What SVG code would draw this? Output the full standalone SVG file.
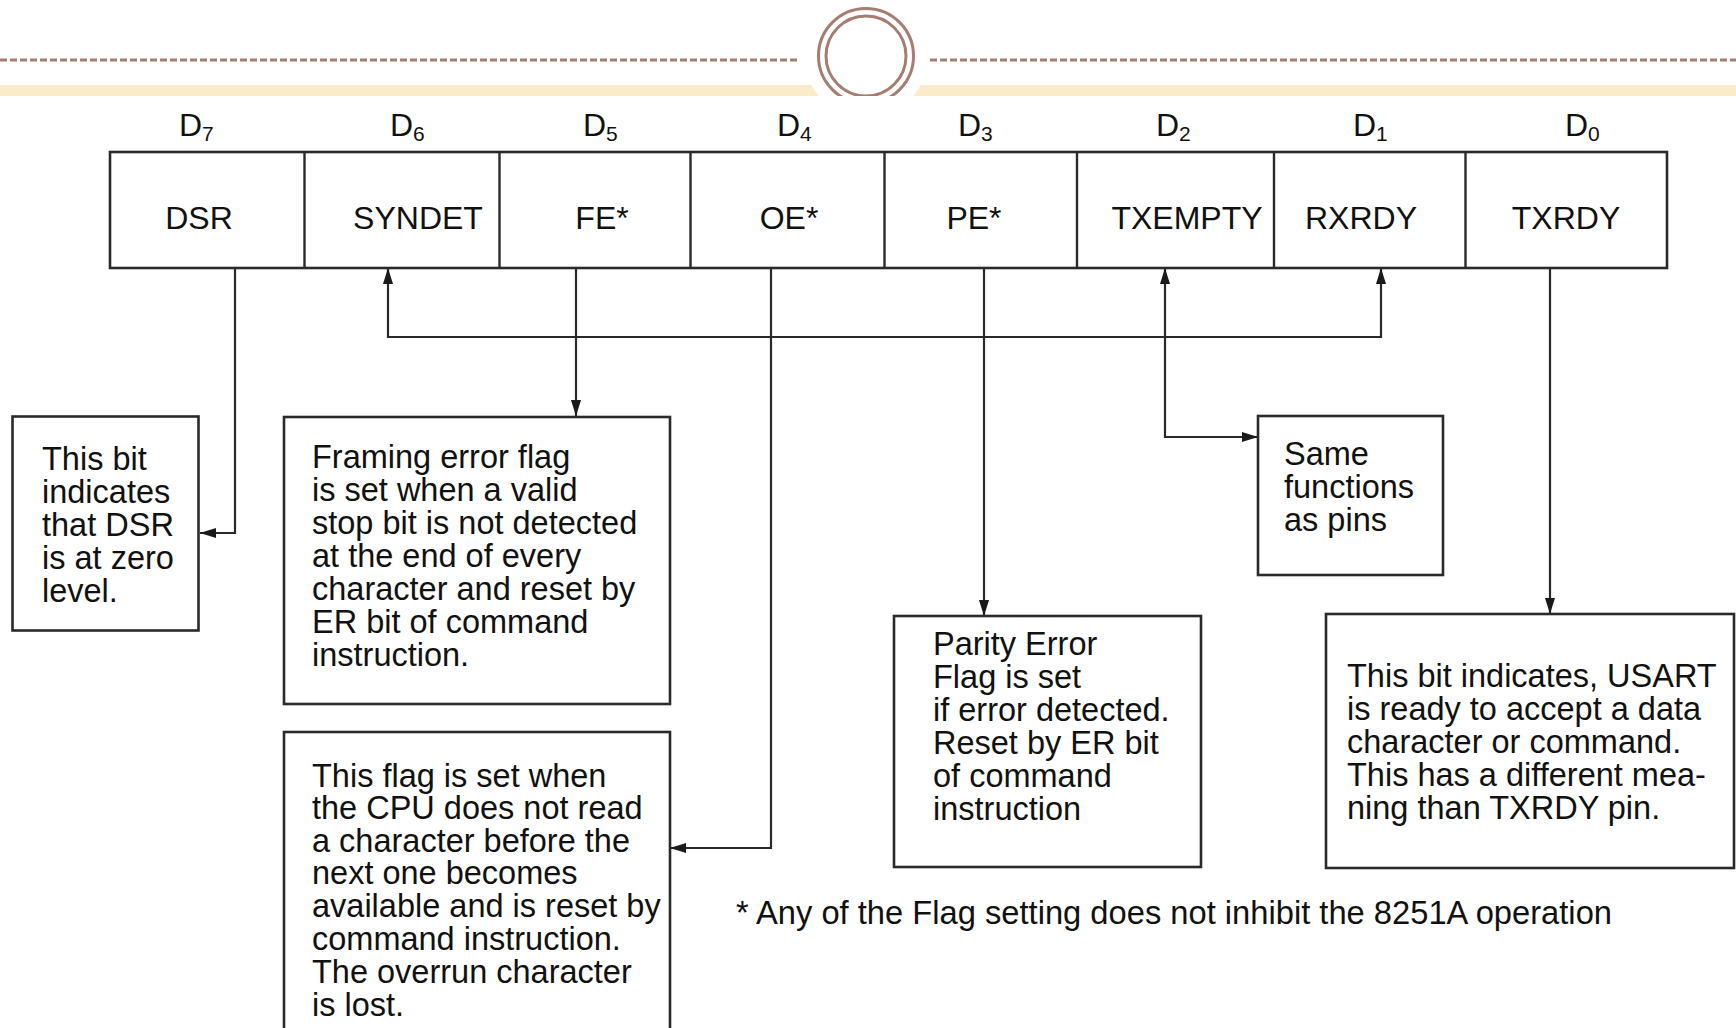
<svg xmlns="http://www.w3.org/2000/svg" width="1736" height="1028" viewBox="0 0 1736 1028">
<style>
.box{fill:#fff;stroke:#2a2a2a;stroke-width:2.6}
.t{font-family:"Liberation Sans",Arial,sans-serif;font-size:32.5px;fill:#111}
.lbl{font-family:"Liberation Sans",Arial,sans-serif;font-size:32px;fill:#111;text-anchor:middle}
.d{font-family:"Liberation Sans",Arial,sans-serif;font-size:32px;fill:#111}
.sub{font-size:21px}
.wire{fill:none;stroke:#2a2a2a;stroke-width:2.2}
.deco{fill:none;stroke:#A57D71;stroke-width:3}
</style>
<defs>
<marker id="ah" markerUnits="userSpaceOnUse" markerWidth="16" markerHeight="10" refX="16" refY="5" orient="auto-start-reverse">
<path d="M0,0 L16,5 L0,10 z" fill="#1a1a1a"/>
</marker>
<clipPath id="topclip"><rect x="0" y="0" width="1736" height="96"/></clipPath>
</defs>
<rect width="1736" height="1028" fill="#fff"/>
<g id="header">
<rect x="0" y="85" width="1736" height="11" fill="#FBECC9"/>
<line x1="0" y1="60" x2="800" y2="60" class="deco" stroke-dasharray="7 3"/>
<line x1="930" y1="60" x2="1736" y2="60" class="deco" stroke-dasharray="7 3"/>
<g clip-path="url(#topclip)">
<circle cx="866" cy="56" r="62" fill="#fff"/>
<circle cx="866" cy="56" r="47.5" class="deco"/>
<circle cx="866" cy="56" r="40" class="deco"/>
</g>
</g>
<g id="bit-labels">
<text class="d" x="179" y="136">D<tspan class="sub" dy="5">7</tspan></text>
<text class="d" x="390" y="136">D<tspan class="sub" dy="5">6</tspan></text>
<text class="d" x="583" y="136">D<tspan class="sub" dy="5">5</tspan></text>
<text class="d" x="777" y="136">D<tspan class="sub" dy="5">4</tspan></text>
<text class="d" x="958" y="136">D<tspan class="sub" dy="5">3</tspan></text>
<text class="d" x="1156" y="136">D<tspan class="sub" dy="5">2</tspan></text>
<text class="d" x="1353" y="136">D<tspan class="sub" dy="5">1</tspan></text>
<text class="d" x="1565" y="136">D<tspan class="sub" dy="5">0</tspan></text>
</g>
<g id="register">
<rect class="box" x="110" y="152" width="1557" height="116"/>
<g stroke="#2a2a2a" stroke-width="2.4">
<line x1="304.5" y1="152" x2="304.5" y2="268"/>
<line x1="499.5" y1="152" x2="499.5" y2="268"/>
<line x1="690.5" y1="152" x2="690.5" y2="268"/>
<line x1="884.5" y1="152" x2="884.5" y2="268"/>
<line x1="1077" y1="152" x2="1077" y2="268"/>
<line x1="1274" y1="152" x2="1274" y2="268"/>
<line x1="1465.5" y1="152" x2="1465.5" y2="268"/>
</g>
<text class="lbl" x="199" y="229">DSR</text>
<text class="lbl" x="418" y="229">SYNDET</text>
<text class="lbl" x="602" y="229">FE*</text>
<text class="lbl" x="789" y="229">OE*</text>
<text class="lbl" x="974" y="229">PE*</text>
<text class="lbl" x="1187" y="229">TXEMPTY</text>
<text class="lbl" x="1361" y="229">RXRDY</text>
<text class="lbl" x="1566" y="229">TXRDY</text>
</g>
<g id="connectors">
<path class="wire" d="M235,268 V533 H200" marker-end="url(#ah)"/>
<path class="wire" d="M388,268 V337 H1381 V268" marker-start="url(#ah)" marker-end="url(#ah)"/>
<path class="wire" d="M576,268 V416" marker-end="url(#ah)"/>
<path class="wire" d="M771,268 V848 H670" marker-end="url(#ah)"/>
<path class="wire" d="M984,268 V616" marker-end="url(#ah)"/>
<path class="wire" d="M1165,268 V437 H1258" marker-start="url(#ah)" marker-end="url(#ah)"/>
<path class="wire" d="M1550,268 V614" marker-end="url(#ah)"/>
</g>
<g id="dsr-note">
<rect class="box" x="12.5" y="416.5" width="186" height="214"/>
<text class="t" x="42" y="470">This bit</text>
<text class="t" x="42" y="503">indicates</text>
<text class="t" x="42" y="536">that DSR</text>
<text class="t" x="42" y="569">is at zero</text>
<text class="t" x="42" y="602">level.</text>
</g>
<g id="fe-note">
<rect class="box" x="284" y="417" width="386" height="287"/>
<text class="t" x="312" y="467.5">Framing error flag</text>
<text class="t" x="312" y="500.5">is set when a valid</text>
<text class="t" x="312" y="533.5">stop bit is not detected</text>
<text class="t" x="312" y="566.5">at the end of every</text>
<text class="t" x="312" y="599.5">character and reset by</text>
<text class="t" x="312" y="632.5">ER bit of command</text>
<text class="t" x="312" y="665.5">instruction.</text>
</g>
<g id="oe-note">
<rect class="box" x="284" y="732" width="386" height="310"/>
<text class="t" x="312" y="786.5">This flag is set when</text>
<text class="t" x="312" y="819">the CPU does not read</text>
<text class="t" x="312" y="851.5">a character before the</text>
<text class="t" x="312" y="884">next one becomes</text>
<text class="t" x="312" y="917">available and is reset by</text>
<text class="t" x="312" y="950">command instruction.</text>
<text class="t" x="312" y="983">The overrun character</text>
<text class="t" x="312" y="1015.5">is lost.</text>
</g>
<g id="pe-note">
<rect class="box" x="894" y="616" width="307" height="251"/>
<text class="t" x="933" y="655">Parity Error</text>
<text class="t" x="933" y="688">Flag is set</text>
<text class="t" x="933" y="721">if error detected.</text>
<text class="t" x="933" y="754">Reset by ER bit</text>
<text class="t" x="933" y="786.5">of command</text>
<text class="t" x="933" y="819.5">instruction</text>
</g>
<g id="same-note">
<rect class="box" x="1258" y="416" width="185" height="159"/>
<text class="t" x="1284" y="464.5">Same</text>
<text class="t" x="1284" y="497.5">functions</text>
<text class="t" x="1284" y="530.5">as pins</text>
</g>
<g id="txrdy-note">
<rect class="box" x="1326" y="614" width="408" height="254"/>
<text class="t" x="1347" y="686.5">This bit indicates, USART</text>
<text class="t" x="1347" y="719.5">is ready to accept a data</text>
<text class="t" x="1347" y="752.5">character or command.</text>
<text class="t" x="1347" y="785.5">This has a different mea-</text>
<text class="t" x="1347" y="818.5">ning than TXRDY pin.</text>
</g>
<g id="footnote">
<text class="t" x="736" y="924" textLength="876" lengthAdjust="spacingAndGlyphs">* Any of the Flag setting does not inhibit the 8251A operation</text>
</g>
</svg>
